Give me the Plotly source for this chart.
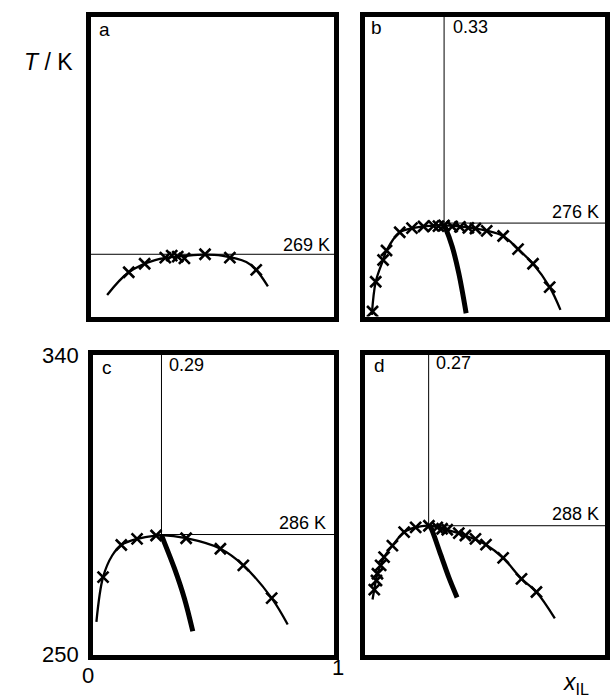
import plotly.graph_objects as go

# ---------------- data ----------------
# panel a
a_curve_x = [0.077, 0.164, 0.27, 0.404, 0.471, 0.538, 0.637, 0.677, 0.724]
a_curve_T = [257.1, 263.8, 267.4, 268.7, 269.0, 268.7, 266.8, 264.5, 259.6]
a_mark_x = [0.164, 0.228, 0.311, 0.337, 0.361, 0.388, 0.471, 0.571, 0.677]
a_mark_T = [263.8, 266.3, 268.1, 268.7, 268.4, 267.9, 269.1, 268.1, 264.5]
a_hline_T = 269.1
a_label = "269 K"

# panel b
b_curve_x = [0.038, 0.054, 0.084, 0.098, 0.152, 0.203, 0.26, 0.333, 0.42, 0.504, 0.574, 0.635, 0.696, 0.764, 0.808]
b_curve_T = [251.2, 261.0, 267.4, 270.2, 275.6, 276.8, 277.4, 277.6, 277.1, 276.1, 274.5, 270.6, 266.3, 259.4, 252.7]
b_mark_x = [0.041, 0.054, 0.084, 0.098, 0.152, 0.202, 0.249, 0.29, 0.31, 0.333, 0.366, 0.398, 0.432, 0.461, 0.507, 0.574, 0.635, 0.696, 0.764]
b_mark_T = [252.2, 261.0, 267.4, 270.2, 275.6, 276.8, 277.3, 277.5, 277.4, 277.6, 277.3, 277.2, 276.9, 276.7, 276.0, 274.5, 270.6, 266.3, 259.4]
b_thick_x = [0.333, 0.339, 0.366, 0.393, 0.423]
b_thick_T = [277.6, 276.8, 271.4, 263.5, 251.7]
b_vline_x = 0.333
b_hline_T = 278.3
b_xlabel = "0.33"
b_label = "276 K"

# panel c
c_curve_x = [0.026, 0.053, 0.09, 0.127, 0.191, 0.268, 0.29, 0.39, 0.529, 0.622, 0.737, 0.802]
c_curve_T = [260.4, 273.6, 280.0, 283.1, 284.9, 285.9, 286.0, 285.1, 282.0, 277.1, 267.4, 259.6]
c_mark_x = [0.053, 0.127, 0.191, 0.268, 0.39, 0.529, 0.622, 0.737]
c_mark_T = [273.6, 283.1, 284.9, 285.9, 285.1, 282.0, 277.1, 267.4]
c_thick_x = [0.29, 0.296, 0.343, 0.383, 0.417]
c_thick_T = [286.0, 284.9, 276.1, 267.3, 257.6]
c_vline_x = 0.29
c_hline_T = 286.2
c_xlabel = "0.29"
c_label = "286 K"

# panel d
d_curve_x = [0.041, 0.048, 0.061, 0.088, 0.122, 0.17, 0.217, 0.271, 0.346, 0.42, 0.504, 0.574, 0.649, 0.71, 0.785]
d_curve_T = [267.0, 269.9, 274.6, 279.5, 282.9, 286.9, 288.3, 288.8, 287.6, 285.9, 283.2, 279.3, 273.1, 269.2, 261.4]
d_mark_x = [0.048, 0.057, 0.061, 0.074, 0.088, 0.122, 0.17, 0.217, 0.271, 0.305, 0.325, 0.346, 0.393, 0.42, 0.461, 0.504, 0.574, 0.649, 0.71]
d_mark_T = [269.9, 272.6, 274.6, 277.1, 279.5, 282.9, 286.9, 288.3, 288.8, 288.3, 287.9, 287.6, 286.6, 285.9, 284.9, 283.2, 279.3, 273.1, 269.2]
d_thick_x = [0.271, 0.278, 0.318, 0.352, 0.386]
d_thick_T = [288.8, 288.3, 280.5, 273.6, 267.6]
d_vline_x = 0.27
d_hline_T = 288.8
d_xlabel = "0.27"
d_label = "288 K"

x_range = [0, 1]
T_range = [250, 340]
x_ticks = ["0", "1"]
T_ticks = ["250", "340"]
panel_names = ["a", "b", "c", "d"]

# ---------------- layout geometry ----------------
W, H = 610, 699
LW = 5
boxes = {
    "a": (88, 14, 336.5, 319),
    "b": (362.5, 14, 607.5, 319),
    "c": (90, 352.5, 336.5, 657),
    "d": (362.5, 352.5, 607.5, 657),
}
FONT = "Arial, Liberation Sans, sans-serif"


def px(x, y):
    return x / W, 1 - y / H


fig = go.Figure()
layout_axes = {}
panels = {
    "a": dict(curve=(a_curve_x, a_curve_T), mark=(a_mark_x, a_mark_T), thick=None,
              vline=None, hline=a_hline_T, xlabel=None, label=a_label),
    "b": dict(curve=(b_curve_x, b_curve_T), mark=(b_mark_x, b_mark_T), thick=(b_thick_x, b_thick_T),
              vline=(b_vline_x, b_curve_T[7]), hline=b_hline_T, xlabel=b_xlabel, label=b_label),
    "c": dict(curve=(c_curve_x, c_curve_T), mark=(c_mark_x, c_mark_T), thick=(c_thick_x, c_thick_T),
              vline=(c_vline_x, c_hline_T), hline=c_hline_T, xlabel=c_xlabel, label=c_label),
    "d": dict(curve=(d_curve_x, d_curve_T), mark=(d_mark_x, d_mark_T), thick=(d_thick_x, d_thick_T),
              vline=(d_vline_x, d_hline_T), hline=d_hline_T, xlabel=d_xlabel, label=d_label),
}

for i, name in enumerate(panel_names):
    n = i + 1
    x0, y0, x1, y1 = boxes[name]
    h = LW / 2
    wpx, hpx = x1 - x0, y1 - y0
    dx = (x_range[1] - x_range[0]) * h / wpx
    dy = (T_range[1] - T_range[0]) * h / hpx
    xa = "xaxis" if n == 1 else f"xaxis{n}"
    ya = "yaxis" if n == 1 else f"yaxis{n}"
    xr = "x" if n == 1 else f"x{n}"
    yr = "y" if n == 1 else f"y{n}"
    common = dict(showline=True, mirror=True, linewidth=LW, linecolor="black",
                  showgrid=False, zeroline=False, ticks="", showticklabels=False, fixedrange=True)
    layout_axes[xa] = dict(domain=[(x0 + h) / W, (x1 - h) / W],
                           range=[x_range[0] + dx, x_range[1] - dx], anchor=yr, **common)
    layout_axes[ya] = dict(domain=[1 - (y1 - h) / H, 1 - (y0 + h) / H],
                           range=[T_range[0] + dy, T_range[1] - dy], anchor=xr, **common)

    p = panels[name]
    # reference lines
    if p["vline"] is None:
        fig.add_trace(go.Scatter(x=[x_range[0], x_range[1]], y=[p["hline"], p["hline"]], mode="lines",
                                 line=dict(color="black", width=1), xaxis=xr, yaxis=yr, showlegend=False))
    else:
        vx, vT = p["vline"]
        fig.add_trace(go.Scatter(x=[vx, vx, None, vx, x_range[1]], y=[vT, T_range[1], None, p["hline"], p["hline"]],
                                 mode="lines", line=dict(color="black", width=1),
                                 xaxis=xr, yaxis=yr, showlegend=False))
    # thin curve
    fig.add_trace(go.Scatter(x=p["curve"][0], y=p["curve"][1], mode="lines",
                             line=dict(color="black", width=2.3, shape="spline", smoothing=1.0),
                             xaxis=xr, yaxis=yr, showlegend=False))
    # thick curve
    if p["thick"] is not None:
        fig.add_trace(go.Scatter(x=p["thick"][0], y=p["thick"][1], mode="lines",
                                 line=dict(color="black", width=5, shape="spline", smoothing=1.0),
                                 xaxis=xr, yaxis=yr, showlegend=False))
    # markers
    fig.add_trace(go.Scatter(x=p["mark"][0], y=p["mark"][1], mode="markers",
                             marker=dict(symbol="x-thin", size=11, color="black",
                                         line=dict(color="black", width=2.6)),
                             xaxis=xr, yaxis=yr, showlegend=False))

annotations = []


def ann(text, x, y, xanchor, yanchor="middle", size=18):
    ax, ay = px(x, y)
    annotations.append(dict(text=text, x=ax, y=ay, xref="paper", yref="paper",
                            xanchor=xanchor, yanchor=yanchor, showarrow=False,
                            font=dict(family=FONT, size=size, color="black")))


# panel letters
ann(panel_names[0], 97, 29, "left", size=19)
ann(panel_names[1], 369, 28, "left", size=19)
ann(panel_names[2], 100, 367, "left", size=19)
ann(panel_names[3], 372, 365, "left", size=19)
# composition labels
ann(b_xlabel, 451, 27, "left")
ann(c_xlabel, 167, 365, "left")
ann(d_xlabel, 434, 363, "left")
# temperature labels
ann(a_label, 332, 245, "right")
ann(b_label, 601, 212, "right")
ann(c_label, 328, 523, "right")
ann(d_label, 601, 514, "right")
# tick labels (panel c)
ann(T_ticks[1], 81, 355, "right", size=22)
ann(T_ticks[0], 81, 654, "right", size=22)
ann(x_ticks[0], 88, 675, "center", size=22)
ann(x_ticks[1], 338, 667, "center", size=22)
# axis titles
ann("<i>T</i> / K", 22, 62, "left", size=23)
ann("<i>x</i><sub>IL</sub>", 561, 683, "left", size=23)

fig.update_layout(width=W, height=H, margin=dict(l=0, r=0, t=0, b=0),
                  paper_bgcolor="white", plot_bgcolor="white",
                  annotations=annotations, **layout_axes)

fig.write_html("out.html")
